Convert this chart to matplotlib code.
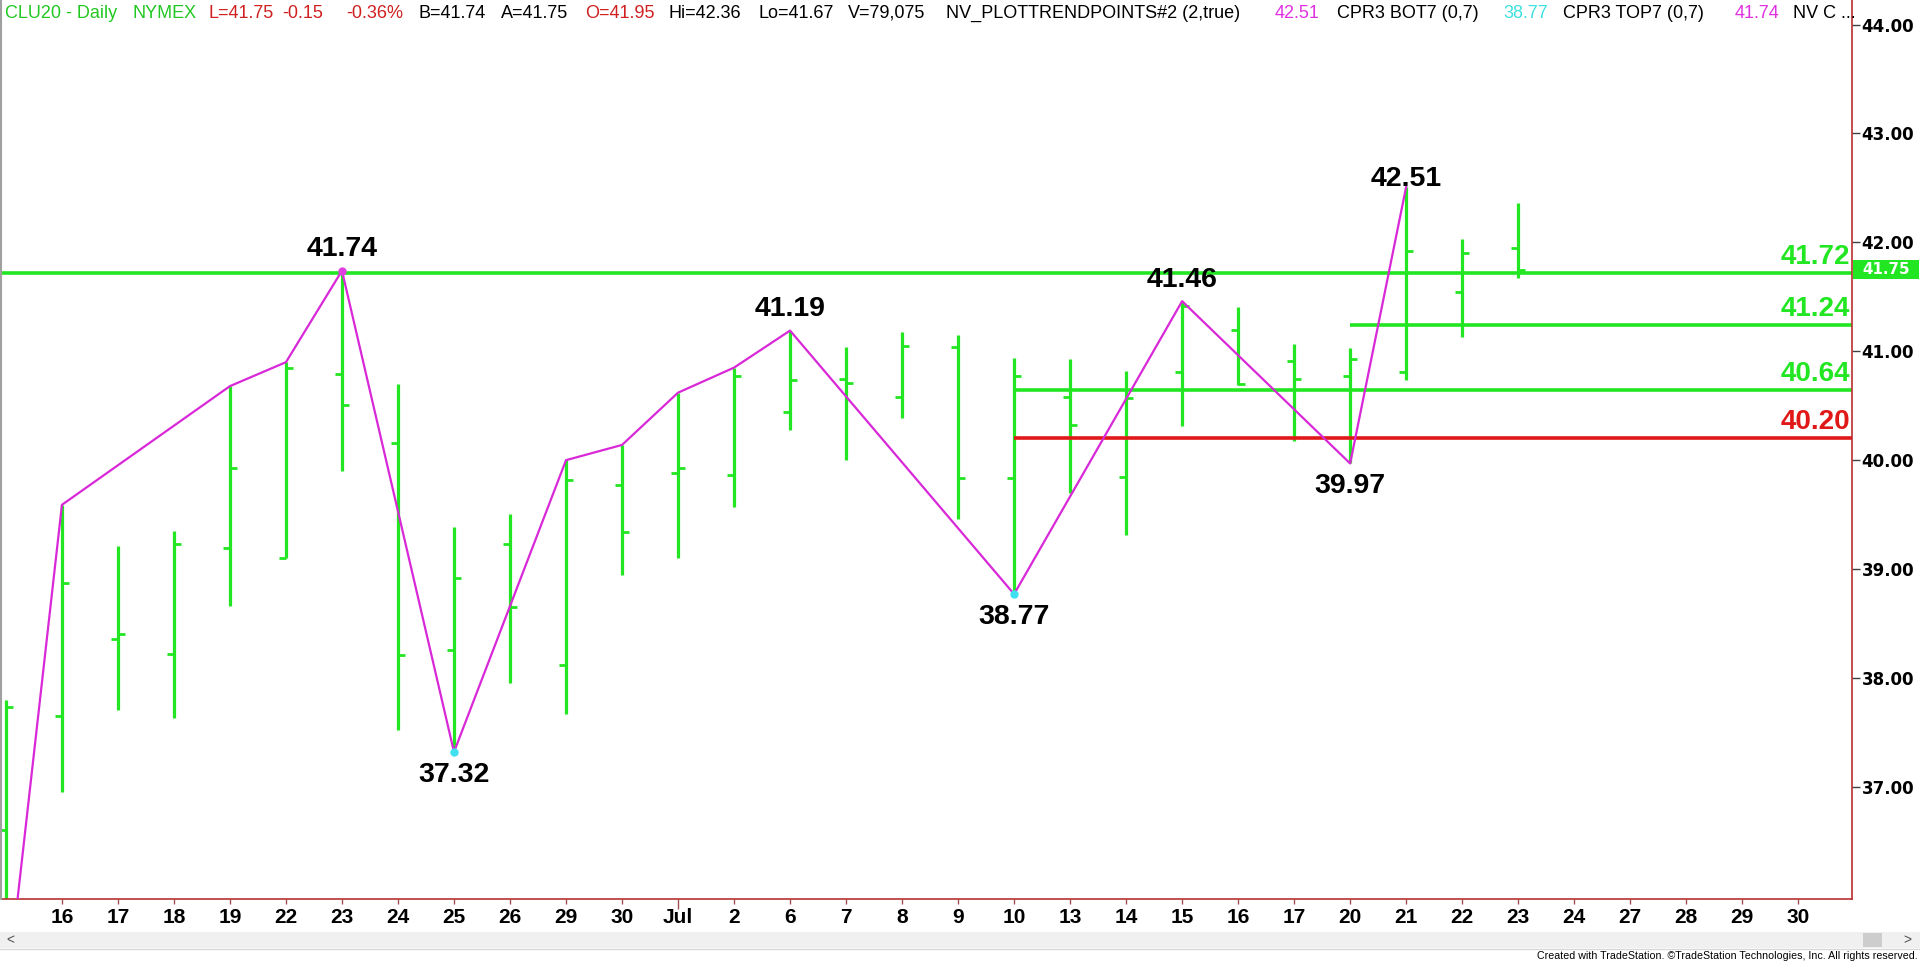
import numpy as np
import matplotlib.pyplot as plt
from matplotlib import font_manager
from matplotlib.patches import Rectangle
from matplotlib.transforms import blended_transform_factory

# trading sessions (Jun 15 .. Jul 23) plus empty future sessions on the axis
sessions = ['Jun 15', 'Jun 16', 'Jun 17', 'Jun 18', 'Jun 19', 'Jun 22', 'Jun 23', 'Jun 24',
            'Jun 25', 'Jun 26', 'Jun 29', 'Jun 30', 'Jul 1', 'Jul 2', 'Jul 6', 'Jul 7',
            'Jul 8', 'Jul 9', 'Jul 10', 'Jul 13', 'Jul 14', 'Jul 15', 'Jul 16', 'Jul 17',
            'Jul 20', 'Jul 21', 'Jul 22', 'Jul 23', 'Jul 24', 'Jul 27', 'Jul 28', 'Jul 29',
            'Jul 30']
tick_labels = ['16', '17', '18', '19', '22', '23', '24', '25', '26', '29', '30', 'Jul', '2',
               '6', '7', '8', '9', '10', '13', '14', '15', '16', '17', '20', '21', '22', '23',
               '24', '27', '28', '29', '30']

opens = [36.60, 37.65, 38.36, 38.22, 39.19, 39.10, 40.79, 40.16, 38.26, 39.23, 38.12, 39.77,
         39.88, 39.86, 40.44, 40.75, 40.58, 41.04, 39.84, 40.58, 39.85, 40.81, 41.20, 40.91,
         40.77, 40.81, 41.54, 41.95]
highs = [37.80, 39.59, 39.21, 39.35, 40.68, 40.90, 41.74, 40.70, 39.39, 39.51, 40.00, 40.14,
         40.62, 40.85, 41.19, 41.04, 41.18, 41.15, 40.94, 40.93, 40.82, 41.46, 41.41, 41.07,
         41.03, 42.51, 42.03, 42.36]
lows = [35.02, 36.95, 37.71, 37.63, 38.66, 39.10, 39.90, 37.52, 37.32, 37.95, 37.67, 38.95,
        39.10, 39.57, 40.28, 40.00, 40.39, 39.46, 38.77, 39.70, 39.31, 40.31, 40.69, 40.18,
        39.97, 40.74, 41.13, 41.67]
closes = [37.73, 38.87, 38.40, 39.23, 39.93, 40.85, 40.51, 38.21, 38.92, 38.65, 39.82, 39.34,
          39.93, 40.77, 40.74, 40.71, 41.05, 39.84, 40.77, 40.32, 40.57, 41.42, 40.70, 40.75,
          40.93, 41.92, 41.90, 41.75]

# trend line vertices
zz_dates = ['Jun 15', 'Jun 16', 'Jun 19', 'Jun 22', 'Jun 23', 'Jun 25', 'Jun 29', 'Jun 30',
            'Jul 1', 'Jul 2', 'Jul 6', 'Jul 10', 'Jul 15', 'Jul 20', 'Jul 21']
zz_prices = [35.02, 39.59, 40.68, 40.90, 41.74, 37.32, 40.00, 40.14, 40.62, 40.85, 41.19,
             38.77, 41.46, 39.97, 42.51]

# labelled pivots
piv_dates = ['Jun 23', 'Jun 25', 'Jul 6', 'Jul 10', 'Jul 15', 'Jul 20', 'Jul 21']
piv_prices = [41.74, 37.32, 41.19, 38.77, 41.46, 39.97, 42.51]
piv_kind = ['high', 'low', 'high', 'low', 'high', 'low', 'top']
dot_dates = ['Jun 23', 'Jun 25', 'Jul 10']
dot_prices = [41.74, 37.32, 38.77]
dot_colors = ['#E040E0', '#40E0F0', '#40E0F0']

# support / resistance levels
levels = [41.72, 41.24, 40.64, 40.20]
level_start = [None, 'Jul 20', 'Jul 10', 'Jul 10']
level_colors = ['#22E622', '#22E622', '#22E622', '#E01818']

header = [('CLU20 - Daily', '#22C822', 5), ('NYMEX', '#22C822', 133),
          ('L=41.75', '#D02020', 208), ('-0.15', '#D02020', 282), ('-0.36%', '#D02020', 346),
          ('B=41.74', 'black', 418), ('A=41.75', 'black', 501), ('O=41.95', '#D02020', 585),
          ('Hi=42.36', 'black', 669), ('Lo=41.67', 'black', 759), ('V=79,075', 'black', 848),
          ('NV_PLOTTRENDPOINTS#2 (2,true)', 'black', 946), ('42.51', '#E030E0', 1275),
          ('CPR3 BOT7 (0,7)', 'black', 1337), ('38.77', '#40E0E0', 1503),
          ('CPR3 TOP7 (0,7)', 'black', 1563), ('41.74', '#E030E0', 1735),
          ('NV C ...', 'black', 1793)]

GREEN = '#22E622'
MAGENTA = '#D828D8'
AXRED = '#B83030'

names = {f.name for f in font_manager.fontManager.ttflist}
ARIAL = 'Liberation Sans'
NARROW = 'Liberation Sans Narrow' if 'Liberation Sans Narrow' in names else 'Liberation Sans'

W, H = 1920, 963
fig = plt.figure(figsize=(W / 100, H / 100), dpi=100)
ax = fig.add_axes([2 / W, (H - 899) / H, 1850 / W, 899 / H])
xlim = (-0.07, 32.96)
ax.set_xlim(*xlim)
ax.set_ylim(35.97, 44.226)

pos = {d: i for i, d in enumerate(sessions)}
x = np.arange(len(opens))
tw = 0.13
ax.vlines(x, lows, highs, color=GREEN, lw=2.3, zorder=2)
ax.hlines(opens, x - tw, x, color=GREEN, lw=2.0, zorder=2)
ax.hlines(closes, x, x + tw, color=GREEN, lw=2.0, zorder=2)

for lvl, start, col in zip(levels, level_start, level_colors):
    x0 = xlim[0] if start is None else pos[start]
    ax.hlines(lvl, x0, xlim[1], color=col, lw=2.6, zorder=2)

trans = blended_transform_factory(ax.transAxes, ax.transData)
for lvl, col in zip(levels, level_colors):
    ax.annotate(f'{lvl:.2f}', xy=(1, lvl), xycoords=trans, xytext=(-1.5, 6.5),
                textcoords='offset points', ha='right', va='baseline', fontsize=20,
                fontweight='bold', family=ARIAL, color=col)

ax.plot([pos[d] for d in zz_dates], zz_prices, color=MAGENTA, lw=1.6, zorder=3)
for d, p, c in zip(dot_dates, dot_prices, dot_colors):
    ax.plot(pos[d], p, 'o', color=c, ms=5, zorder=4)

offs = {'high': 10.4, 'low': -21.5, 'top': 0.5}
for d, p, k in zip(piv_dates, piv_prices, piv_kind):
    ax.annotate(f'{p:.2f}', xy=(pos[d], p), xytext=(0, offs[k]), textcoords='offset points',
                ha='center', va='baseline', fontsize=20.5, fontweight='bold', family=ARIAL,
                color='black', zorder=5)

# axes look
for s in ['top', 'left']:
    ax.spines[s].set_visible(False)
ax.spines['bottom'].set_color(AXRED)
ax.spines['right'].set_color(AXRED)
ax.spines['bottom'].set_linewidth(1.2)
ax.spines['right'].set_linewidth(1.2)

ax.yaxis.tick_right()
yt = np.arange(37, 45)
ax.set_yticks(yt)
ax.set_yticklabels([f'{v:.2f}' for v in yt], fontsize=12, fontweight='bold',
                   family='DejaVu Sans')
ax.tick_params(axis='y', length=6, width=1, color='#404040', pad=1)

ax.set_xticks(np.arange(1, len(sessions)))
ax.set_xticklabels(tick_labels, fontsize=15, fontweight='bold', family=ARIAL)
ax.tick_params(axis='x', length=3.6, width=1, color='#A05050', pad=3)
jul = tick_labels.index('Jul')
ax.xaxis.get_major_ticks()[jul].tick1line.set_markersize(7)

# last price box on the price scale
last = closes[-1]
bh = 9.5 / 108.8
ax.add_patch(Rectangle((1.0007, last - bh), 66 / 1850, 2 * bh, transform=trans,
                       facecolor=GREEN, edgecolor='none', clip_on=False, zorder=6))
ax.text(1.0007 + 33 / 1850, last, f'{last:.2f}', transform=trans, ha='center', va='center',
        fontsize=10.8, fontweight='bold', family='DejaVu Sans', color='white', zorder=7,
        clip_on=False)

# left border
fig.add_artist(plt.Line2D([1 / W, 1 / W], [(H - 899) / H, 1], color='#A0A0A0', lw=1.5))

# header line
for txt, col, px in header:
    fig.text(px / W, 1 - 13 / H, txt, color=col, fontsize=13, family=ARIAL, va='center')

# scroll bar
fig.patches.append(Rectangle((0, (H - 948) / H), 1, 16 / H, transform=fig.transFigure,
                             facecolor='#F0F0F0', edgecolor='none'))
fig.patches.append(Rectangle((1863 / W, (H - 947) / H), 19 / W, 14 / H,
                             transform=fig.transFigure, facecolor='#CDCDCD', edgecolor='none'))
fig.add_artist(plt.Line2D([0, 1], [(H - 949) / H] * 2, color='#D8D8D8', lw=1))
fig.text(6 / W, 1 - 940 / H, '<', fontsize=10, color='#505050', va='center', family=ARIAL)
fig.text(1903 / W, 1 - 940 / H, '>', fontsize=10, color='#505050', va='center', family=ARIAL)

foot = fig.text(1918 / W, 1 - 956 / H,
                'Created with TradeStation. \u00a9TradeStation Technologies, Inc. All rights reserved.',
                fontsize=10, family=NARROW, ha='right', va='center', color='black')
fig.canvas.draw()
w = foot.get_window_extent().width
foot.set_fontsize(10 * 377 / w)

fig.savefig('out.png', dpi=100, facecolor='white')
